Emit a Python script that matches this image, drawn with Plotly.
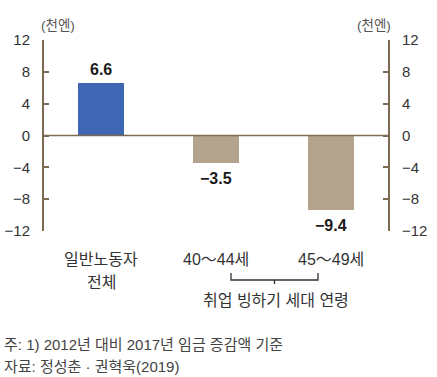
import plotly.graph_objects as go

categories = ["일반노동자 전체", "40～44세", "45～49세"]
cat_lines = [["일반노동자", "전체"], ["40～44세"], ["45～49세"]]
values = [6.6, -3.5, -9.4]
bar_colors = ["#3f66b3", "#b4a38c"]
y_ticks = [-12, -8, -4, 0, 4, 8, 12]
unit_label = "(천엔)"
group_label = "취업 빙하기 세대 연령"
note_lines = ["주: 1) 2012년 대비 2017년 임금 증감액 기준", "자료: 정성춘 · 권혁욱(2019)"]

W, H = 437, 377
ML, MR, MT, MB = 44, 49, 40, 146
PW = W - ML - MR
PH = H - MT - MB
AXC = "#7d6a52"
FONT = "Arial, Liberation Sans, Noto Sans CJK KR, sans-serif"
TXT = "#333333"


def fmt(v):
    s = f"{abs(v):.1f}"
    return ("−" + s) if v < 0 else s


def px_to_py(py):
    return (MT + PH - py) / PH


def px_to_px(px):
    return (px - ML) / PW


colors = [bar_colors[0] if v > 0 else bar_colors[1] for v in values]
xs = list(range(len(categories)))

fig = go.Figure()
fig.add_trace(go.Bar(x=xs, y=values, marker_color=colors, width=0.4,
                     marker_line_width=0, showlegend=False, hoverinfo="skip"))
fig.add_trace(go.Scatter(x=xs, y=values, yaxis="y2", mode="markers",
                         marker_opacity=0, showlegend=False, hoverinfo="skip"))

tick_text = [fmt(t).replace(".0", "") for t in y_ticks]
axis_common = dict(range=[-12, 12], tickvals=y_ticks, ticktext=tick_text,
                   ticks="inside", ticklen=5, tickcolor=AXC, tickwidth=1.5,
                   showline=True, linecolor=AXC, linewidth=2, showgrid=False,
                   zeroline=False, tickfont=dict(size=15, color=TXT, family=FONT),
                   ticklabelstandoff=9, fixedrange=True, automargin=False)

fig.update_layout(
    width=W, height=H,
    margin=dict(l=ML, r=MR, t=MT, b=MB, pad=0),
    paper_bgcolor="white", plot_bgcolor="white",
    font=dict(family=FONT, color=TXT),
    xaxis=dict(range=[-0.5, 2.5], showticklabels=False, showline=False,
               showgrid=False, zeroline=False, ticks="", fixedrange=True),
    yaxis=dict(side="left", **axis_common),
    yaxis2=dict(side="right", overlaying="y", **axis_common),
    bargap=0,
)

# zero line
fig.add_shape(type="line", xref="paper", yref="y", x0=0, x1=1, y0=0, y1=0,
              line=dict(color=AXC, width=1.5))

# value labels
for x, v in zip(xs, values):
    fig.add_annotation(x=x, y=v, text=f"<b>{fmt(v)}</b>", showarrow=False,
                       yanchor="bottom" if v > 0 else "top",
                       yshift=3 if v > 0 else -5,
                       font=dict(size=16, color="#1a1a1a", family=FONT))

# category labels
for x, lines in zip(xs, cat_lines):
    for i, line in enumerate(lines):
        fig.add_annotation(x=x, xref="x", y=px_to_py(259 + 23 * i), yref="paper",
                           text=line, showarrow=False, xanchor="center", yanchor="middle",
                           font=dict(size=16, color=TXT, family=FONT))

# units
for cx in (58, 374):
    fig.add_annotation(x=px_to_px(cx), y=px_to_py(25), xref="paper", yref="paper",
                       text=unit_label, showarrow=False, xanchor="center", yanchor="middle",
                       font=dict(size=13.5, color="#555555", family=FONT))

# bracket
bl, br, bm = px_to_px(231), px_to_px(318), px_to_px(274.5)
ytop, ymid, ybot = px_to_py(273), px_to_py(280), px_to_py(284)
bc = "#333333"
fig.add_shape(type="path", xref="paper", yref="paper",
              path=f"M {bl} {ytop} L {bl} {ymid} L {br} {ymid} L {br} {ytop}",
              line=dict(color=bc, width=1.3))
fig.add_shape(type="line", xref="paper", yref="paper", x0=bm, x1=bm, y0=ymid, y1=ybot,
              line=dict(color=bc, width=1.3))
fig.add_annotation(x=px_to_px(276), y=px_to_py(300), xref="paper", yref="paper",
                   text=group_label, showarrow=False, xanchor="center", yanchor="middle",
                   font=dict(size=16, color=TXT, family=FONT))

# notes
for i, line in enumerate(note_lines):
    fig.add_annotation(x=px_to_px(2), y=px_to_py(344 + 22 * i), xref="paper", yref="paper",
                       text=line, showarrow=False, xanchor="left", yanchor="middle",
                       font=dict(size=15, color="#444444", family=FONT))

fig.write_html("out.html", config={"displayModeBar": False},
               post_script="document.body.style.margin='0';document.body.style.overflow='hidden';")
